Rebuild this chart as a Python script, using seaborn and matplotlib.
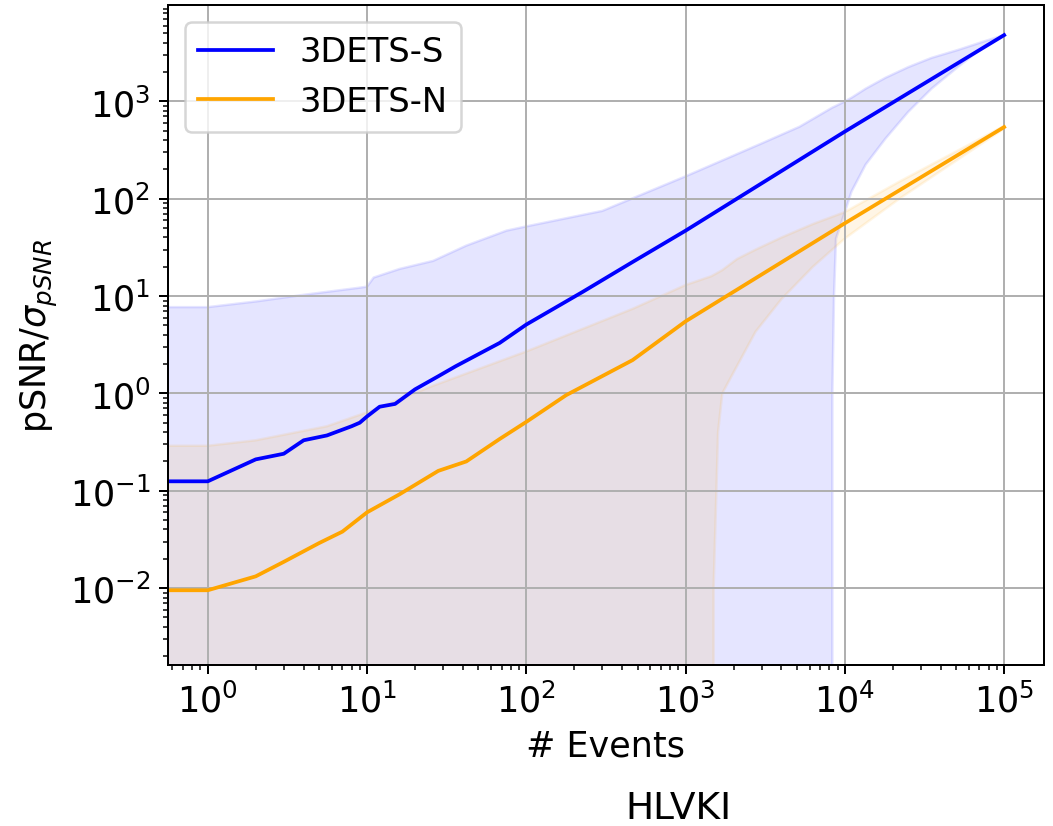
"""pSNR / sigma vs number of events for the two 3DETS variants (log-log)."""
import matplotlib

matplotlib.use("Agg")
import matplotlib.pyplot as plt
import seaborn as sns

# ── 3DETS-S : mean curve ───────────────────────────────────────────
s_events = [0, 1, 2, 3, 4, 5.6, 8, 9, 10, 12, 15, 20, 28, 36, 68, 100, 225, 465, 1000, 10000, 100000]
s_mean = [0.125, 0.125, 0.21, 0.24, 0.33, 0.37, 0.46, 0.5, 0.58, 0.73, 0.78, 1.1, 1.5, 1.9,
          3.3, 5.1, 11, 22.4, 47, 490, 4800]

# ── 3DETS-S : ±1σ band ─────────────────────────────────────────────
s_band_events = [0, 1, 2, 4, 9, 10, 11, 16, 26, 42, 75, 100, 300, 1000, 3000, 5200, 8200,
                 8300, 8350, 8550, 8800, 10000, 11000, 13500, 18000, 25000, 35000, 52000,
                 77000, 100000]
s_band_upper = [7.7, 7.7, 8.8, 10.3, 12.2, 12.5, 15.5, 19, 23, 33, 47, 52, 75, 170, 370, 550, 850,
                860, 865, 880, 900, 1000, 1090, 1350, 1750, 2250, 2800, 3400,
                4200, 4800]
s_band_lower = [0, 0, 0, 0, 0, 0, 0, 0, 0, 0, 0, 0, 0, 0, 0, 0, 0,
                0, 1, 10, 39, 73, 118, 224, 415, 780, 1350, 2300,
                3800, 4750]

# ── 3DETS-N : mean curve ───────────────────────────────────────────
n_events = [0, 1, 2, 3, 5, 7, 10, 16, 28, 42, 68, 100, 178, 465, 1000, 10000, 100000]
n_mean = [0.0095, 0.0095, 0.0132, 0.0186, 0.029, 0.038, 0.06, 0.092, 0.16, 0.2, 0.34,
          0.51, 0.96, 2.2, 5.5, 56, 545]

# ── 3DETS-N : ±1σ band ─────────────────────────────────────────────
n_band_events = [0, 1, 2, 5.6, 10, 26, 100, 465, 1000, 1450, 1500, 1600, 1700, 2100, 2750,
                 4000, 6300, 10000, 22000, 100000]
n_band_upper = [0.29, 0.29, 0.33, 0.46, 0.64, 1.2, 2.7, 7.4, 13, 16, 16.5, 17.5, 18.5, 24, 30,
                40, 55, 73, 150, 560]
n_band_lower = [0, 0, 0, 0, 0, 0, 0, 0, 0, 0, 0.01, 0.4, 1.0, 1.9, 4.3,
                9.3, 20, 39, 100, 525]

SERIES_LABELS = ["3DETS-S", "3DETS-N"]
SERIES_COLORS = ["blue", "orange"]


def main() -> None:
    fig = plt.figure(figsize=(1053 / 180, 827 / 180), dpi=180)
    ax = fig.add_axes([0.1595, 0.1947, 0.8319, 0.798])

    ax.fill_between(s_band_events, s_band_lower, s_band_upper, color=SERIES_COLORS[0], alpha=0.1)
    ax.fill_between(n_band_events, n_band_lower, n_band_upper, color=SERIES_COLORS[1], alpha=0.1)

    sns.lineplot(x=s_events, y=s_mean, ax=ax, color=SERIES_COLORS[0], label=SERIES_LABELS[0],
                 linewidth=1.5, sort=False)
    sns.lineplot(x=n_events, y=n_mean, ax=ax, color=SERIES_COLORS[1], label=SERIES_LABELS[1],
                 linewidth=1.5, sort=False)

    # log axes are set afterwards so the x=0 point is clipped to the left edge
    ax.set_xscale("log")
    ax.set_yscale("log")
    ax.set_xlim(10 ** -0.25, 10 ** 5.25)
    ax.set_ylim(10 ** -2.79, 10 ** 3.99)

    ax.grid(True, which="major", color="#b0b0b0", linewidth=0.8)
    ax.tick_params(axis="both", which="major", labelsize=14)
    ax.set_xlabel("# Events", fontsize=14)
    ax.set_ylabel(r"pSNR/$\sigma_{pSNR}$", fontsize=14)

    ax.legend(loc="upper left", fontsize=13.5, handlelength=2.2)

    fig.text(678 / 1053, 1 - 819 / 827, "HLVKI", ha="center", va="baseline", fontsize=15)

    fig.savefig("out.png", dpi=180)
    plt.close(fig)


if __name__ == "__main__":
    main()
